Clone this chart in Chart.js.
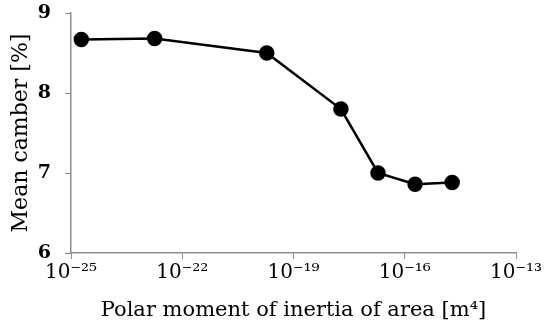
<!DOCTYPE html>
<html>
<head>
<meta charset="utf-8">
<script src="https://cdn.jsdelivr.net/npm/chart.js@4/dist/chart.umd.min.js"></script>
<style>
html,body{margin:0;padding:0;background:#fff;}
#wrap{width:550px;height:332px;}
</style>
</head>
<body>
<div id="wrap"><canvas id="c" width="550" height="332"></canvas></div>
<script>
const inertia = [1.9e-25, 1.8e-23, 1.9e-20, 1.9e-18, 1.9e-17, 1.9e-16, 1.9e-15];
const meanCamber = [8.67, 8.68, 8.50, 7.80, 7.00, 6.86, 6.88];
const xTickValues = [1e-25, 1e-22, 1e-19, 1e-16, 1e-13];
const xTickLabels = ['10⁻²⁵', '10⁻²²', '10⁻¹⁹', '10⁻¹⁶', '10⁻¹³'];
const yTickValues = [6, 7, 8, 9];

const FONT = "'DejaVu Serif', serif";
const AXIS = '#8c8c8c';

new Chart(document.getElementById('c'), {
  type: 'line',
  data: {
    datasets: [{
      data: inertia.map((x, i) => ({x: x, y: meanCamber[i]})),
      borderColor: '#000',
      backgroundColor: '#000',
      borderWidth: 2.5,
      pointRadius: 6.5,
      pointHoverRadius: 6.5,
      pointBackgroundColor: '#000',
      pointBorderColor: '#000',
      tension: 0,
      clip: false
    }]
  },
  options: {
    responsive: false,
    animation: false,
    devicePixelRatio: 1,
    layout: {padding: {left: 0, right: 34, top: 13, bottom: 0}},
    plugins: {legend: {display: false}, tooltip: {enabled: false}},
    scales: {
      x: {
        type: 'logarithmic',
        min: 1e-25,
        max: 1e-13,
        afterBuildTicks: s => { s.ticks = xTickValues.map(v => ({value: v})); },
        afterFit: s => { s.height = 79; s.paddingLeft = 0; s.paddingRight = 0; },
        grid: {drawOnChartArea: false, drawTicks: true, tickLength: 6, color: AXIS, lineWidth: 1},
        border: {color: AXIS, width: 1.5},
        ticks: {
          color: '#000',
          font: {family: FONT, size: 20},
          padding: 2,
          maxRotation: 0,
          autoSkip: false,
          callback: (v, i) => xTickLabels[i]
        },
        title: {display: true, text: 'Polar moment of inertia of area [m⁴]', color: '#000',
          font: {family: FONT, size: 21}, padding: {top: 4, bottom: 9}}
      },
      y: {
        type: 'linear',
        min: 6,
        max: 9,
        afterBuildTicks: s => { s.ticks = yTickValues.map(v => ({value: v})); },
        afterFit: s => { s.width = 71; s.paddingTop = 0; s.paddingBottom = 0; },
        grid: {drawOnChartArea: false, drawTicks: true, tickLength: 6, color: AXIS, lineWidth: 1},
        border: {color: AXIS, width: 1.5},
        ticks: {
          color: '#000',
          font: {family: FONT, size: 19, weight: 'bold'},
          padding: 14
        },
        title: {display: true, text: 'Mean camber [%]', color: '#000',
          font: {family: FONT, size: 22}, padding: {top: 8, bottom: 4}}
      }
    }
  }
});
</script>
</body>
</html>
